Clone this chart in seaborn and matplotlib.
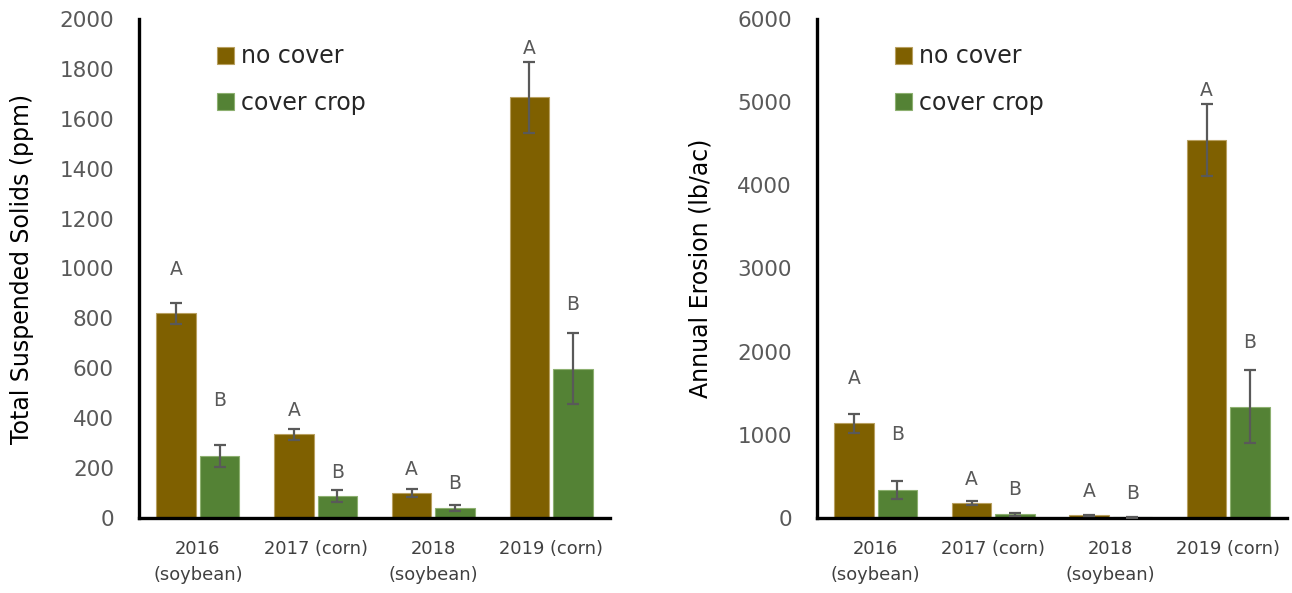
import numpy as np
import pandas as pd
import seaborn as sns
import matplotlib.pyplot as plt
from matplotlib.ticker import MultipleLocator

# ---- data ----
years = ["2016\n(soybean)", "2017 (corn)", "2018\n(soybean)", "2019 (corn)"]
treatments = ["no cover", "cover crop"]

tss_no_cover = [820, 335, 102, 1686]
tss_cover = [248, 88, 40, 598]
tss_err_no_cover = [43, 22, 16, 143]
tss_err_cover = [43, 23, 13, 142]

ero_no_cover = [1138, 176, 32, 4545]
ero_cover = [337, 44, 8, 1338]
ero_err_no_cover = [110, 25, 10, 437]
ero_err_cover = [106, 18, 4, 441]

letters_no_cover = ["A", "A", "A", "A"]
letters_cover = ["B", "B", "B", "B"]

# heights (data units) at which the significance letters are centred
tss_letter_y_no_cover = [994, 430, 196, 1882]
tss_letter_y_cover = [470, 183, 139, 854]
ero_letter_y_no_cover = [1679, 465, 321, 5138]
ero_letter_y_cover = [1006, 337, 297, 2108]

# ---- style ----
BROWN = "#7F6000"
GREEN = "#548235"
GREY = "#595959"
palette = {"no cover": BROWN, "cover crop": GREEN}
edge = {"no cover": "#B8A060", "cover crop": "#8DB070"}

sns.set_style("white")
plt.rcParams["font.family"] = ["DejaVu Sans"]

fig = plt.figure(figsize=(12.92, 5.93), dpi=100)
W, H = 1292, 593
ax1 = fig.add_axes([139 / W, (H - 518) / H, 471 / W, 499 / H])
ax2 = fig.add_axes([817 / W, (H - 518) / H, 470 / W, 499 / H])


def make_frame(no_cover, cover):
    return pd.DataFrame({
        "year": years * 2,
        "treatment": ["no cover"] * len(years) + ["cover crop"] * len(years),
        "value": list(no_cover) + list(cover),
    })


def draw_panel(ax, no_cover, cover, err_nc, err_c, let_y_nc, let_y_c,
               ymax, major, minor, ylabel):
    df = make_frame(no_cover, cover)
    sns.barplot(data=df, x="year", y="value", hue="treatment",
                order=years, hue_order=treatments, palette=palette,
                saturation=1, errorbar=None, width=0.736, gap=0.087,
                legend=False, linewidth=0.8, ax=ax)
    errs = [err_nc, err_c]
    vals = [no_cover, cover]
    lets = [letters_no_cover, letters_cover]
    let_ys = [let_y_nc, let_y_c]
    bar_groups = list(ax.containers)
    for k, cont in enumerate(bar_groups):
        xs = []
        for bar in cont.patches:
            bar.set_edgecolor(edge[treatments[k]])
            xs.append(bar.get_x() + bar.get_width() / 2)
        ax.errorbar(xs, vals[k], yerr=errs[k], fmt="none", ecolor=GREY,
                    elinewidth=1.6, capsize=4.5, capthick=1.6, zorder=5)
        for x, t, y in zip(xs, lets[k], let_ys[k]):
            ax.text(x, y, t, ha="center", va="center", fontsize=13.5,
                    color=GREY)

    ax.set_xlim(-0.5, len(years) - 0.5)
    ax.set_ylim(0, ymax)
    ax.yaxis.set_major_locator(MultipleLocator(major))
    ax.yaxis.set_minor_locator(MultipleLocator(minor))
    for side in ["top", "right"]:
        ax.spines[side].set_visible(False)
    for side in ["left", "bottom"]:
        ax.spines[side].set_linewidth(2.4)
        ax.spines[side].set_color("black")
    ax.tick_params(axis="y", which="both", direction="in", length=5,
                   width=1.8, color="black", labelsize=15.5,
                   labelcolor=GREY, pad=18)
    ax.tick_params(axis="x", length=0, labelsize=12.9, labelcolor="#404040",
                   pad=16)
    for lab in ax.get_xticklabels():
        lab.set_linespacing(1.55)
    ax.set_xlabel("")
    ax.set_ylabel(ylabel, fontsize=17, color="black")
    ax.yaxis.set_label_coords(-0.222, 0.5)

    handles = [plt.Rectangle((0, 0), 1, 1, facecolor=palette[t],
                             edgecolor=edge[t], linewidth=0.8)
               for t in treatments]
    ax.legend(handles, treatments, loc="upper left",
              bbox_to_anchor=(0.145, 0.968), frameon=False, fontsize=17,
              handlelength=0.72, handleheight=0.72, handletextpad=0.3,
              labelspacing=0.95, borderaxespad=0)


draw_panel(ax1, tss_no_cover, tss_cover, tss_err_no_cover, tss_err_cover,
           tss_letter_y_no_cover, tss_letter_y_cover,
           2000, 200, 40, "Total Suspended Solids (ppm)")
draw_panel(ax2, ero_no_cover, ero_cover, ero_err_no_cover, ero_err_cover,
           ero_letter_y_no_cover, ero_letter_y_cover,
           6000, 1000, 200, "Annual Erosion (lb/ac)")

fig.savefig("out.png", dpi=100)
